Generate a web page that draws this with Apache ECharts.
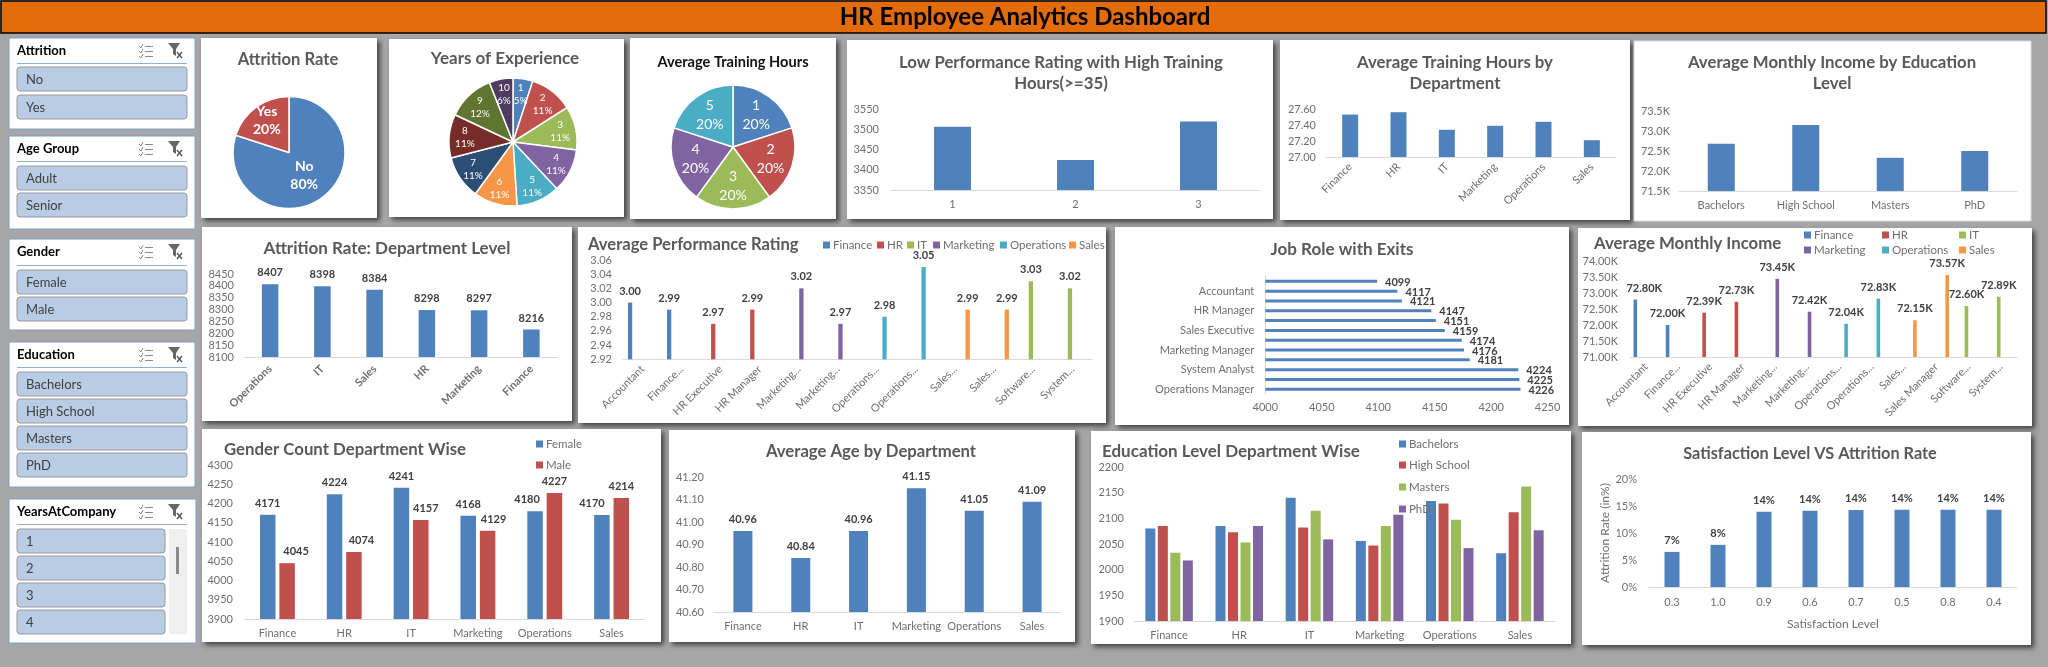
<!DOCTYPE html>
<html><head><meta charset="utf-8"><title>HR Employee Analytics Dashboard</title>
<style>html,body{margin:0;padding:0;background:#a6a6a6;overflow:hidden}#c{width:2048px;height:667px}</style>
<script src="https://cdn.jsdelivr.net/npm/echarts@6/dist/echarts.min.js"></script>
</head><body><div id="c"></div>
<script>
// ---------- data ----------
const attritionNames = ['No', 'Yes'];
const attritionShare = [80, 20];
const experienceNames = ['1','2','3','4','5','6','7','8','9','10'];
const experienceShare = [5, 11, 11, 11, 11, 11, 11, 11, 12, 6];
const trainingNames = ['1','2','3','4','5'];
const trainingShare = [20, 20, 20, 20, 20];

const lowPerfCats = ['1','2','3'];
const lowPerfValues = [3506, 3424, 3519];

const departments = ['Finance','HR','IT','Marketing','Operations','Sales'];
const trainingByDept = [27.53, 27.56, 27.34, 27.39, 27.44, 27.21];

const educationLevels = ['Bachelors','High School','Masters','PhD'];
const incomeByEducation = [72.68, 73.15, 72.33, 72.5];

const attritionDeptCats = ['Operations','IT','Sales','HR','Marketing','Finance'];
const attritionDeptValues = [8407, 8398, 8384, 8298, 8297, 8216];

const perfRoleCats = ['Accountant','Finance...','HR Executive','HR Manager','Marketing...','Marketing...','Operations...','Operations...','Sales...','Sales...','Software...','System...'];
const perfFinance    = [3.00, 2.99, null, null, null, null, null, null, null, null, null, null];
const perfHR         = [null, null, 2.97, 2.99, null, null, null, null, null, null, null, null];
const perfIT         = [null, null, null, null, null, null, null, null, null, null, 3.03, 3.02];
const perfMarketing  = [null, null, null, null, 3.02, 2.97, null, null, null, null, null, null];
const perfOperations = [null, null, null, null, null, null, 2.98, 3.05, null, null, null, null];
const perfSales      = [null, null, null, null, null, null, null, null, 2.99, 2.99, null, null];

const jobRoles = ['Operations Manager','Finance Manager','System Analyst','Software Engineer','Marketing Manager','Marketing Executive','Sales Executive','Sales Manager','HR Manager','HR Executive','Accountant','Operations Executive'];
const jobExits = [4226, 4225, 4224, 4181, 4176, 4174, 4159, 4151, 4147, 4121, 4117, 4099];

const incomeRoleCats = ['Accountant','Finance...','HR Executive','HR Manager','Marketing...','Marketing...','Operations...','Operations...','Sales...','Sales Manager','Software...','System...'];
const incomeFinance    = [72.80, 72.00, null, null, null, null, null, null, null, null, null, null];
const incomeHR         = [null, null, 72.39, 72.73, null, null, null, null, null, null, null, null];
const incomeIT         = [null, null, null, null, null, null, null, null, null, null, 72.60, 72.89];
const incomeMarketing  = [null, null, null, null, 73.45, 72.42, null, null, null, null, null, null];
const incomeOperations = [null, null, null, null, null, null, 72.04, 72.83, null, null, null, null];
const incomeSales      = [null, null, null, null, null, null, null, null, 72.15, 73.57, null, null];

const genderFemale = [4171, 4224, 4241, 4168, 4180, 4170];
const genderMale   = [4045, 4074, 4157, 4129, 4227, 4214];

const ageByDept = [40.96, 40.84, 40.96, 41.15, 41.05, 41.09];

const eduBachelors = [2080, 2085, 2140, 2056, 2134, 2032];
const eduHighSchool = [2085, 2073, 2082, 2047, 2129, 2112];
const eduMasters = [2033, 2053, 2115, 2085, 2097, 2162];
const eduPhD = [2018, 2085, 2059, 2107, 2042, 2077];

const satisfactionCats = ['0.3','1.0','0.9','0.6','0.7','0.5','0.8','0.4'];
const satisfactionRates = [6.5, 7.8, 13.95, 14.1, 14.25, 14.3, 14.3, 14.3];

const slicers = [
  {title:'Attrition', items:['No','Yes']},
  {title:'Age Group', items:['Adult','Senior']},
  {title:'Gender', items:['Female','Male']},
  {title:'Education', items:['Bachelors','High School','Masters','PhD']},
  {title:'YearsAtCompany', items:['1','2','3','4']}
];

// ---------- style & layout ----------
const FONT = 'Lato, "Open Sans", sans-serif';
const BLUE='#4F81BD', RED='#C0504D', GREEN='#9BBB59', PURPLE='#8064A2', TEAL='#4BACC6', ORANGE='#F79646';
const PIE_COLORS = [BLUE,RED,GREEN,PURPLE,TEAL,ORANGE,'#2C4D75','#772C2A','#5F7530','#4D3B62'];
const TICK='#6f6f6f', LABEL='#404040', TITLE='#595959', AXIS='#d9d9d9';

const slicerBoxes = [[9,38,195,129,51,63,[67,95]],[9,136,195,229,149,161,[166,193]],[9,239,195,330,252,265,[270,297]],[9,342,195,487,355,367,[372,399,426,453]],[9,499,196,643,512,524,[529,556,583,610]]];
const panels = [
 [201,38,377,218,1],[389,39,624,217,1],[630,38,836,219,1],[847,40,1273,219,1],[1280,40,1630,220,1],[1634,41,2031,221,0],
 [202,227,572,421,1],[578,227,1106,423,1],[1115,227,1569,425,1],[1578,228,2032,426,1],
 [202,429,661,642,1],[669,430,1075,642,1],[1091,431,1571,644,1],[1582,432,2031,645,1]
];

const option = {animation:false, backgroundColor:'#a6a6a6', textStyle:{fontFamily:FONT},
  title:[], legend:[], grid:[], xAxis:[], yAxis:[], series:[], graphic:{elements:[]}};
const G = option.graphic.elements;

// header + panels
G.push({type:'rect',silent:true,z:0,shape:{x:1,y:1,width:2045,height:32},style:{fill:'#E36C09',stroke:'#000',lineWidth:1.5}});
panels.forEach(p=>G.push({type:'rect',silent:true,z:0,shape:{x:p[0],y:p[1],width:p[2]-p[0],height:p[3]-p[1]},
  style:p[4]?{fill:'#fff',shadowBlur:5,shadowOffsetX:3,shadowOffsetY:3,shadowColor:'rgba(0,0,0,0.6)'}:{fill:'#fff',stroke:'#d9d9d9',lineWidth:1}}));

function title(text,x,y,opts){
  opts=opts||{};
  option.title.push({text,left:x,top:y,textAlign:opts.align||'center',padding:0,
    textStyle:{fontFamily:FONT,fontSize:opts.size||16.8,fontWeight:opts.weight||'bold',color:opts.color||TITLE,lineHeight:opts.lh||21}});
}
title('HR Employee Analytics Dashboard',1025,3,{size:24,color:'#000',lh:28});

// slicers
function seg(x1,y1,x2,y2,c,w){G.push({type:'line',silent:true,z:1,shape:{x1,y1,x2,y2},style:{stroke:c,lineWidth:w||1}});}
slicers.forEach((s,i)=>{
  const [x0,y0,x1,y1,ty,ly,bs]=slicerBoxes[i];
  G.push({type:'rect',silent:true,z:0,shape:{x:x0,y:y0,width:x1-x0,height:y1-y0},style:{fill:'#fff',stroke:'#7f9fca',lineWidth:1}});
  G.push({type:'text',silent:true,z:1,style:{x:17,y:ty,text:s.title,font:'bold 13px '+FONT,fill:'#000',verticalAlign:'middle'}});
  seg(17,ly+.5,187,ly+.5,'#8fb0d8',1);
  const scroll=i===4, w=scroll?148:170;
  bs.forEach((by,k)=>{
    G.push({type:'rect',silent:true,z:1,shape:{x:17,y:by,width:w,height:24,r:3},style:{fill:'#B8CCE4',stroke:'#9a9a9a',lineWidth:1}});
    G.push({type:'text',silent:true,z:2,style:{x:26,y:by+12.5,text:s.items[k],font:'13px '+FONT,fill:'#404040',verticalAlign:'middle'}});
  });
  if(scroll){
    G.push({type:'rect',silent:true,z:1,shape:{x:169,y:529,width:18,height:105},style:{fill:'#efefef'}});
    G.push({type:'rect',silent:true,z:2,shape:{x:176,y:547,width:3,height:27},style:{fill:'#8a8a8a'}});
  }
  // multi-select icon
  [-5,0,5].forEach(d=>{
    seg(139,ty+d,141,ty+d+2,'#8a8a8a');seg(141,ty+d+2,143,ty+d-2,'#8a8a8a');
    seg(145,ty+d+.5,153,ty+d+.5,'#8a8a8a');
  });
  // clear-filter icon
  G.push({type:'polygon',silent:true,z:1,shape:{points:[[168,ty-8],[180,ty-8],[176,ty-2],[176,ty+5],[173,ty+3],[173,ty-2]]},style:{fill:'#666'}});
  seg(177,ty+1,182,ty+7,'#555',1.4);seg(182,ty+1,177,ty+7,'#555',1.4);
});

// pies
function pie(names,values,cx,cy,r,fontSize,lh,reach,weight,labelShift){
  option.series.push({type:'pie',center:[cx,cy],radius:r,startAngle:90,avoidLabelOverlap:false,silent:true,
    data:names.map((n,i)=>({name:n,value:values[i],itemStyle:{color:PIE_COLORS[i]}})),
    itemStyle:{borderColor:'#fff',borderWidth:1.5},
    label:{show:true,position:'inside',color:'#fff',fontFamily:FONT,fontWeight:weight,fontSize,lineHeight:lh,
      formatter:p=>p.name+'\n'+p.value+'%'},
    labelLine:{show:false},
    labelLayout:p=>{
      const lx=p.labelRect.x+p.labelRect.width/2, ly=p.labelRect.y+p.labelRect.height/2;
      const extra=(labelShift&&labelShift[p.dataIndex])||[0,0];
      return {dx:(lx-cx)*(reach-1)+extra[0],dy:(ly-cy)*(reach-1)+extra[1]};
    }});
}
title('Attrition Rate',288,49,{size:16.6});
pie(attritionNames,attritionShare,289,152.5,56,14,18,1,'bold',[[-3,-2],[-4,-7]]);
title('Years of Experience',505,48,{size:17});
pie(experienceNames,experienceShare,513,142,64,10,13,1.38,'normal');
title('Average Training Hours',733,52,{size:14.6,color:'#111'});
pie(trainingNames,trainingShare,733,147,62,14,19,1.16,'normal');

// bars
function fixed2(v){return v.toFixed(2);}
function barChart(c){
  const gi=option.grid.length;
  const [x0,y0,x1,y1]=c.box;
  option.grid.push({left:x0,top:y0,width:x1-x0,height:y1-y0,containLabel:false});
  const catAxis={type:'category',gridIndex:gi,data:c.cats,
    axisLine:{show:!c.horizontal,lineStyle:{color:AXIS}},axisTick:{show:false},
    axisLabel:{interval:c.catInterval||0,rotate:c.rotate||0,margin:c.catMargin||9,color:c.catColor||TICK,fontSize:c.catSize||11,fontWeight:c.catWeight||'normal',fontFamily:FONT,hideOverlap:false}};
  const valAxis={type:'value',gridIndex:gi,min:c.min,max:c.max,interval:c.interval,splitLine:{show:false},axisTick:{show:false},
    axisLine:{show:false},
    axisLabel:{margin:c.valMargin||10,color:TICK,fontSize:c.valSize||11,fontFamily:FONT,formatter:c.tickFmt||(v=>String(v))}};
  if(c.horizontal){
    catAxis.axisLine={show:true,lineStyle:{color:AXIS}};
    catAxis.axisLabel.margin=c.catMargin;
    option.xAxis.push(valAxis);option.yAxis.push(catAxis);
  }else{
    if(c.yName){valAxis.name=c.yName;valAxis.nameLocation='middle';valAxis.nameGap=c.yNameGap;valAxis.nameTextStyle={color:TICK,fontSize:12,fontFamily:FONT};}
    if(c.xName){catAxis.name=c.xName;catAxis.nameLocation='middle';catAxis.nameGap=c.xNameGap;catAxis.nameTextStyle={color:TICK,fontSize:12,fontFamily:FONT};}
    option.xAxis.push(catAxis);option.yAxis.push(valAxis);
  }
  c.series.forEach(s=>{
    option.series.push({type:'bar',name:s.name,xAxisIndex:gi,yAxisIndex:gi,barWidth:c.barWidth,barGap:c.barGap,
      data:s.values.map((v,i)=>{
        const shift=s.shift&&s.shift[i];
        return shift?{value:v,label:{offset:[shift,0]}}:v;
      }),
      itemStyle:{color:s.color||BLUE},silent:true,
      label:{show:!!c.valueFmt,position:c.horizontal?'right':'top',distance:c.labelGap==null?6:c.labelGap,offset:c.labelOffset||[0,0],color:LABEL,fontSize:c.labelSize||11,fontWeight:'bold',fontFamily:FONT,
        formatter:p=>c.valueFmt?c.valueFmt(p.value):''}});
  });
}
function legendItem(name,x,yc,size){
  option.legend.push({data:[name],left:x,top:yc-7,padding:0,icon:'rect',itemWidth:7,itemHeight:7,selectedMode:false,
    textStyle:{color:TICK,fontSize:size||11.5,fontFamily:FONT,padding:[0,0,0,-2]}});
}

title('Low Performance Rating with High Training\nHours(>=35)',1061,52);
barChart({box:[891,109,1260,190],cats:lowPerfCats,series:[{values:lowPerfValues}],min:3350,max:3550,interval:50,barWidth:37,valMargin:12,catMargin:9});

title('Average Training Hours by\nDepartment',1455,52);
barChart({box:[1326,109,1616,157],cats:departments,series:[{values:trainingByDept}],min:27,max:27.6,interval:0.2,barWidth:16,tickFmt:fixed2,rotate:45,catMargin:8});

title('Average Monthly Income by Education\nLevel',1832,52);
barChart({box:[1679,111,2017,191],cats:educationLevels,series:[{values:incomeByEducation}],min:71.5,max:73.5,interval:0.5,barWidth:27,tickFmt:v=>v.toFixed(1)+'K',valMargin:9,catMargin:9});

title('Attrition Rate: Department Level',387,238,{size:17});
barChart({box:[244,274,557.5,357],cats:attritionDeptCats,series:[{values:attritionDeptValues}],min:8100,max:8450,interval:50,barWidth:16.5,valueFmt:String,rotate:45,catWeight:'bold',catMargin:10});

title('Average Performance Rating',588,234,{size:16.6,align:'left'});
['Finance','HR','IT','Marketing','Operations','Sales'].forEach((n,i)=>legendItem(n,[823,877,907,933,1000,1069][i],246));
barChart({box:[623,260,1092,359.3],cats:perfRoleCats,min:2.92,max:3.06,interval:0.02,tickFmt:fixed2,barWidth:4.3,barGap:'16%',valueFmt:fixed2,rotate:45,valMargin:11,catMargin:8,
  series:[{name:'Finance',values:perfFinance,color:BLUE},{name:'HR',values:perfHR,color:RED},{name:'IT',values:perfIT,color:GREEN},{name:'Marketing',values:perfMarketing,color:PURPLE},{name:'Operations',values:perfOperations,color:TEAL},{name:'Sales',values:perfSales,color:ORANGE}]});

title('Job Role with Exits',1342,239,{size:17});
barChart({box:[1265.3,276.4,1547.6,394.2],cats:jobRoles,series:[{values:jobExits}],horizontal:true,min:4000,max:4250,interval:50,barWidth:3,valueFmt:String,catInterval:1,catMargin:11,labelGap:8,labelOffset:[0,1],valMargin:8});

title('Average Monthly Income',1594,233,{align:'left'});
[['Finance',1804,236],['HR',1882,236],['IT',1959,236],['Marketing',1804,251],['Operations',1882,251],['Sales',1959,251]].forEach(l=>legendItem(l[0],l[1],l[2]));
barChart({box:[1630,261.3,2017,357],cats:incomeRoleCats,min:71,max:74,interval:0.5,tickFmt:v=>v.toFixed(2)+'K',barWidth:3.6,barGap:'20%',valueFmt:v=>v.toFixed(2)+'K',rotate:45,valMargin:12,catMargin:8,
  series:[{name:'Finance',values:incomeFinance,color:BLUE,shift:[9]},{name:'HR',values:incomeHR,color:RED},{name:'IT',values:incomeIT,color:GREEN},{name:'Marketing',values:incomeMarketing,color:PURPLE},{name:'Operations',values:incomeOperations,color:TEAL},{name:'Sales',values:incomeSales,color:ORANGE}]});

title('Gender Count Department Wise',224,439,{align:'left'});
legendItem('Female',536,445);legendItem('Male',536,466);
barChart({box:[244,465,645,619],cats:departments,min:3900,max:4300,interval:50,barWidth:15.5,barGap:'25%',valueFmt:String,valMargin:11,catMargin:9,
  series:[{name:'Female',values:genderFemale,color:BLUE,shift:[0,0,0,0,-8,-10]},{name:'Male',values:genderMale,color:RED,shift:[9,7.5,5,6,0,0]}]});

title('Average Age by Department',871,441,{size:16.7});
barChart({box:[714,477,1061,612],cats:departments,series:[{values:ageByDept}],min:40.6,max:41.2,interval:0.1,barWidth:19,tickFmt:v=>v.toFixed(2),valueFmt:fixed2,valMargin:10,catMargin:9});

title('Education Level Department Wise',1102,441,{size:17,align:'left'});
[['Bachelors',445],['High School',466],['Masters',488],['PhD',510]].forEach(l=>legendItem(l[0],1399,l[1]));
barChart({box:[1134,467,1555,621],cats:departments,min:1900,max:2200,interval:50,barWidth:10,barGap:'25%',valMargin:10,catMargin:9,
  series:[{name:'Bachelors',values:eduBachelors,color:BLUE},{name:'High School',values:eduHighSchool,color:RED},{name:'Masters',values:eduMasters,color:GREEN},{name:'PhD',values:eduPhD,color:PURPLE}]});

title('Satisfaction Level VS Attrition Rate',1810,443,{size:16.3});
barChart({box:[1649,479,2017,587],cats:satisfactionCats,series:[{values:satisfactionRates}],min:0,max:20,interval:5,barWidth:15,tickFmt:v=>v+'%',valueFmt:v=>Math.round(v)+'%',valMargin:12,catMargin:10,labelGap:6,
  yName:'Attrition Rate (in%)',yNameGap:36,xName:'Satisfaction Level',xNameGap:31});

echarts.init(document.getElementById('c')).setOption(option);
</script></body></html>
